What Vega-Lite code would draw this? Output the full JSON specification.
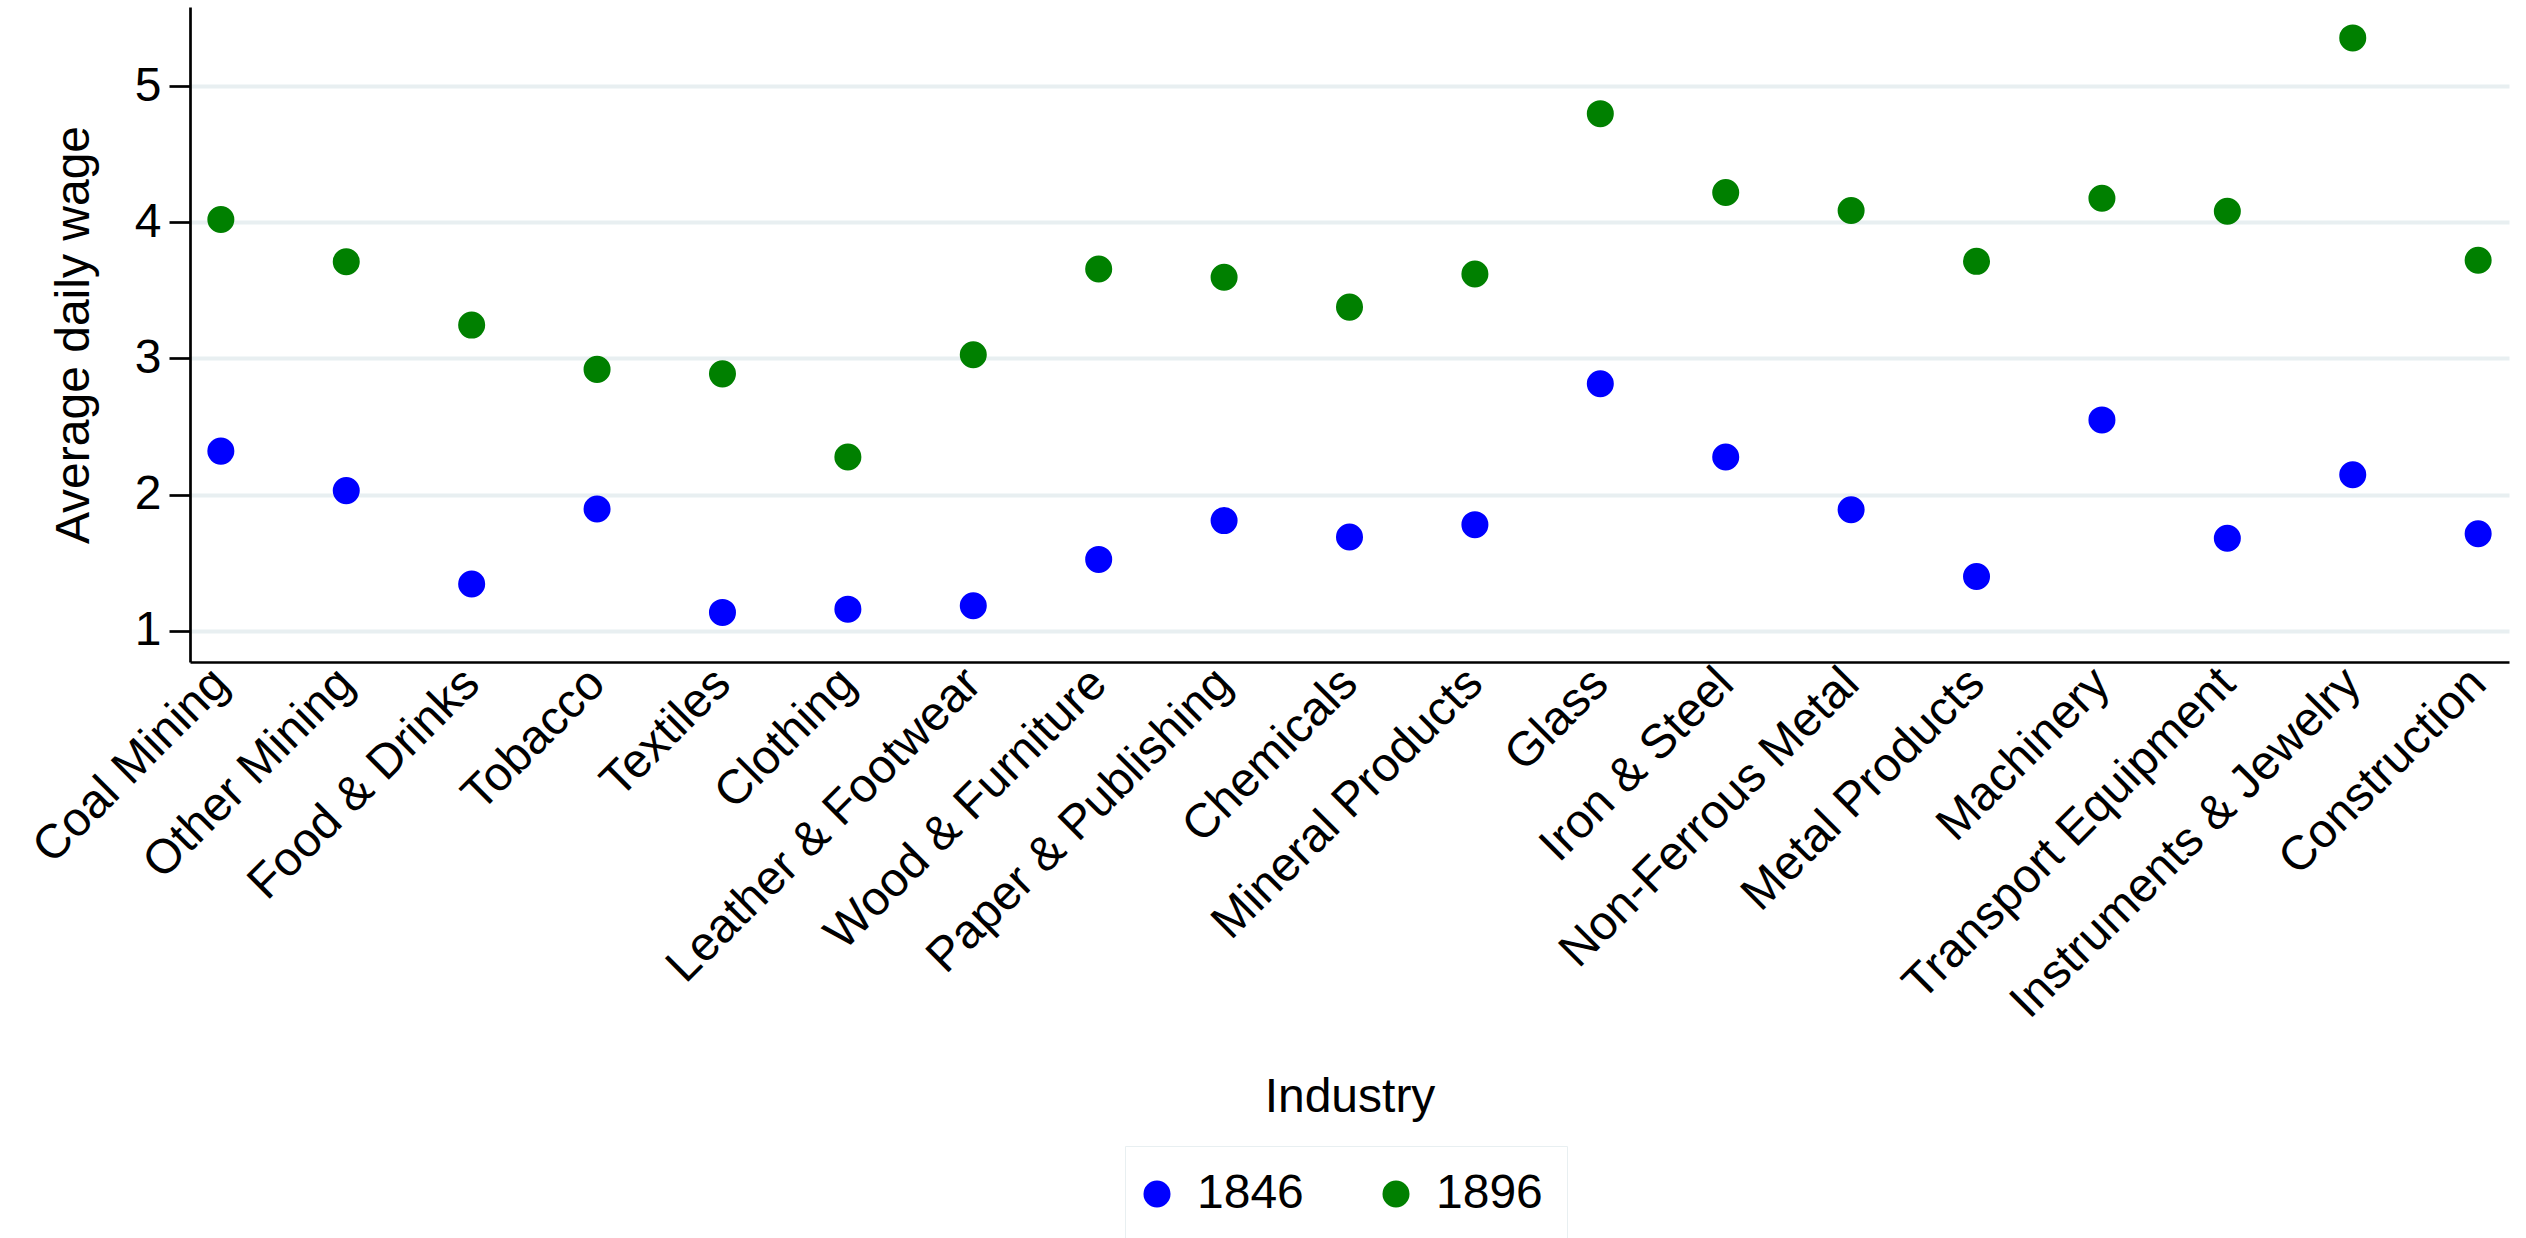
{
  "$schema": "https://vega.github.io/schema/vega-lite/v6.json",
  "autosize": {"type": "none"},
  "width": 2319,
  "height": 655,
  "padding": {"left": 190, "top": 7, "right": 17, "bottom": 576},
  "background": "white",
  "config": {
    "view": {"stroke": null},
    "font": "Liberation Sans"
  },
  "data": {
    "values": [
      {"industry": "Coal Mining", "year": "1846", "wage": 2.32},
      {"industry": "Coal Mining", "year": "1896", "wage": 4.02},
      {"industry": "Other Mining", "year": "1846", "wage": 2.03},
      {"industry": "Other Mining", "year": "1896", "wage": 3.71},
      {"industry": "Food & Drinks", "year": "1846", "wage": 1.345},
      {"industry": "Food & Drinks", "year": "1896", "wage": 3.245},
      {"industry": "Tobacco", "year": "1846", "wage": 1.895},
      {"industry": "Tobacco", "year": "1896", "wage": 2.92},
      {"industry": "Textiles", "year": "1846", "wage": 1.136},
      {"industry": "Textiles", "year": "1896", "wage": 2.887},
      {"industry": "Clothing", "year": "1846", "wage": 1.16},
      {"industry": "Clothing", "year": "1896", "wage": 2.277},
      {"industry": "Leather & Footwear", "year": "1846", "wage": 1.185},
      {"industry": "Leather & Footwear", "year": "1896", "wage": 3.027},
      {"industry": "Wood & Furniture", "year": "1846", "wage": 1.525},
      {"industry": "Wood & Furniture", "year": "1896", "wage": 3.657},
      {"industry": "Paper & Publishing", "year": "1846", "wage": 1.81},
      {"industry": "Paper & Publishing", "year": "1896", "wage": 3.596},
      {"industry": "Chemicals", "year": "1846", "wage": 1.69},
      {"industry": "Chemicals", "year": "1896", "wage": 3.377},
      {"industry": "Mineral Products", "year": "1846", "wage": 1.78},
      {"industry": "Mineral Products", "year": "1896", "wage": 3.62},
      {"industry": "Glass", "year": "1846", "wage": 2.814},
      {"industry": "Glass", "year": "1896", "wage": 4.797},
      {"industry": "Iron & Steel", "year": "1846", "wage": 2.277},
      {"industry": "Iron & Steel", "year": "1896", "wage": 4.218},
      {"industry": "Non-Ferrous Metal", "year": "1846", "wage": 1.89},
      {"industry": "Non-Ferrous Metal", "year": "1896", "wage": 4.086},
      {"industry": "Metal Products", "year": "1846", "wage": 1.4},
      {"industry": "Metal Products", "year": "1896", "wage": 3.713},
      {"industry": "Machinery", "year": "1846", "wage": 2.549},
      {"industry": "Machinery", "year": "1896", "wage": 4.176},
      {"industry": "Transport Equipment", "year": "1846", "wage": 1.68},
      {"industry": "Transport Equipment", "year": "1896", "wage": 4.081},
      {"industry": "Instruments & Jewelry", "year": "1846", "wage": 2.147},
      {"industry": "Instruments & Jewelry", "year": "1896", "wage": 5.353},
      {"industry": "Construction", "year": "1846", "wage": 1.713},
      {"industry": "Construction", "year": "1896", "wage": 3.721}
    ]
  },
  "mark": {"type": "circle", "size": 730, "opacity": 1},
  "encoding": {
    "x": {
      "field": "industry",
      "type": "nominal",
      "sort": null,
      "scale": {"type": "point", "padding": 0.246},
      "axis": {
        "title": "Industry",
        "titleFontSize": 48,
        "titleFontWeight": "normal",
        "titleColor": "black",
        "titleBaseline": "alphabetic",
        "titleY": 449,
        "labelAngle": -45,
        "labelAlign": "right",
        "labelBaseline": "middle",
        "labelFontSize": 48,
        "labelColor": "black",
        "labelPadding": 14,
        "labelOverlap": false,
        "labelLimit": 1000,
        "ticks": false,
        "grid": false,
        "domainColor": "black",
        "domainWidth": 2.7
      }
    },
    "y": {
      "field": "wage",
      "type": "quantitative",
      "scale": {"domain": [0.772, 5.58], "nice": false, "zero": false},
      "axis": {
        "title": "Average daily wage",
        "titleFontSize": 48,
        "titleFontWeight": "normal",
        "titleColor": "black",
        "titlePadding": 36,
        "values": [1, 2, 3, 4, 5],
        "labelFontSize": 48,
        "labelColor": "black",
        "labelPadding": 8,
        "tickSize": 21,
        "tickWidth": 2.7,
        "tickColor": "black",
        "domainColor": "black",
        "domainWidth": 2.7,
        "grid": true,
        "gridColor": "#e8eff1",
        "gridWidth": 4
      }
    },
    "color": {
      "field": "year",
      "type": "nominal",
      "scale": {"domain": ["1846", "1896"], "range": ["#0000ff", "#008000"]},
      "legend": {
        "title": null,
        "orient": "none",
        "legendX": 935,
        "legendY": 1139,
        "direction": "horizontal",
        "symbolType": "circle",
        "symbolSize": 730,
        "symbolOpacity": 1,
        "symbolStrokeWidth": 0,
        "symbolOffset": -16,
        "labelFontSize": 48,
        "labelColor": "black",
        "labelOffset": 16,
        "columnPadding": 78,
        "padding": 24,
        "strokeColor": "#e8eff1"
      }
    }
  }
}
